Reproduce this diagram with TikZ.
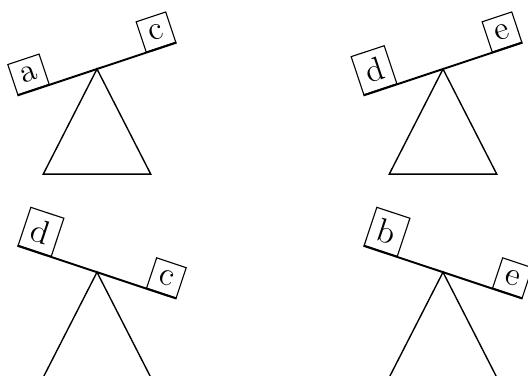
\documentclass[tikz,border=0pt]{standalone}
\begin{document}
\begin{tikzpicture}[weight/.style={draw, font=\large, inner sep=3pt}]
    \clip (-1.227,-3.883) rectangle (5.452,0.873);

    \foreach \px/\py/\t/\l/\r [count=\i] in {0/0/18.4/a/c, 4.377/0/18.4/d/e, 0/-2.57/-18.4/d/c, 4.377/-2.57/-18.4/b/e}
    {
        \coordinate (top\i) at (\px,\py);
        \draw[line width=0.5pt] (top\i) -- +(-0.68,-1.33) -- +(0.68,-1.33) -- cycle;
        \draw[line width=0.7pt] (top\i) ++(180+\t:1.06) coordinate (left\i) -- (top\i) -- ++(\t:1.06) coordinate (right\i);
        \node[weight, rotate=\t, anchor=south west] (wl\i) at (left\i) {\l};
        \node[weight, rotate=\t, anchor=south east] (wr\i) at (right\i) {\r};
    }
\end{tikzpicture}
\end{document}
